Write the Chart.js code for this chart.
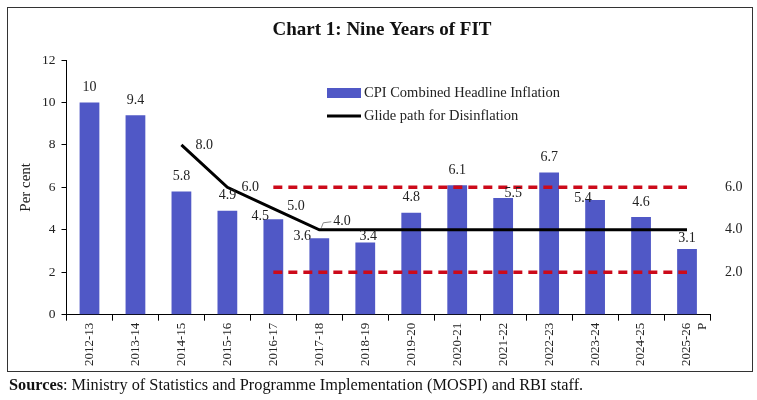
<!DOCTYPE html>
<html>
<head>
<meta charset="utf-8">
<script src="https://cdn.jsdelivr.net/npm/chart.js@4.4.1/dist/chart.umd.min.js"></script>
<style>
  html, body { margin: 0; padding: 0; background: #fff; }
  #wrap { width: 757px; height: 400px; position: relative; }
</style>
</head>
<body>
<div id="wrap"><canvas id="fitChart" width="757" height="400"></canvas></div>
<script>
// Data
const categories = ['2012-13', '2013-14', '2014-15', '2015-16', '2016-17', '2017-18', '2018-19',
    '2019-20', '2020-21', '2021-22', '2022-23', '2023-24', '2024-25', ['2025-26', 'P']];
const cpiInflation = [10, 9.4, 5.8, 4.9, 4.5, 3.6, 3.4, 4.8, 6.1, 5.5, 6.7, 5.4, 4.6, 3.1];
const glidePath = [null, null, 8.0, 6.0, 5.0, 4.0, 4.0, 4.0, 4.0, 4.0, 4.0, 4.0, 4.0, 4.0];
const upperBand = [null, null, null, null, 6, 6, 6, 6, 6, 6, 6, 6, 6, 6];
const lowerBand = [null, null, null, null, 2, 2, 2, 2, 2, 2, 2, 2, 2, 2];
const glideLabelIndex = [2, 3, 4, 5];
const bandLabels = [6.0, 4.0, 2.0];
const yTicks = [0, 2, 4, 6, 8, 10, 12];

const SERIF = '"Liberation Serif", "DejaVu Serif", serif';
const BAR_BLUE = '#5058c6';
const BAND_RED = '#cc0a1a';
const TEXT = '#222';

// a few bar labels were nudged in the original to dodge the lines
const labelNudge = { 4: [-13, 12], 5: [-17, 13], 6: [3, 9], 9: [10, 10], 11: [-12, 13], 13: [0, 4] };

// Title, labels, frame, legend and source line
const decorations = {
    id: 'decorations',
    beforeDraw(chart) {
        const ctx = chart.ctx;
        ctx.save();
        ctx.strokeStyle = '#333';
        ctx.lineWidth = 1;
        ctx.strokeRect(7.5, 7.5, 745, 364);
        ctx.fillStyle = '#111';
        ctx.font = 'bold 19px ' + SERIF;
        ctx.textAlign = 'center';
        ctx.textBaseline = 'middle';
        ctx.fillText('Chart 1: Nine Years of FIT', 382, 30);
        ctx.restore();
    },
    afterDatasetsDraw(chart) {
        const ctx = chart.ctx;
        const area = chart.chartArea;
        const y = chart.scales.y;
        ctx.save();
        ctx.fillStyle = TEXT;
        ctx.font = '14px ' + SERIF;
        ctx.textAlign = 'center';
        ctx.textBaseline = 'middle';

        // bar value labels
        chart.getDatasetMeta(3).data.forEach((bar, i) => {
            const [dx, dy] = labelNudge[i] || [0, 0];
            ctx.fillText(String(cpiInflation[i]), bar.x + dx, bar.y - 15 + dy);
        });

        // glide path labels
        const lineMeta = chart.getDatasetMeta(1).data;
        ctx.textAlign = 'left';
        glideLabelIndex.forEach(i => {
            const p = lineMeta[i];
            let dx = 14, dy = 0;
            if (i === 4) { dy = -2; }
            if (i === 5) { dx = 14; dy = -8; }
            ctx.fillText(glidePath[i].toFixed(1), p.x + dx, p.y + dy);
        });
        // leader for the 4.0 label
        const p5 = lineMeta[5];
        ctx.strokeStyle = '#888';
        ctx.lineWidth = 1;
        ctx.beginPath();
        ctx.moveTo(p5.x + 2, p5.y - 2);
        ctx.lineTo(p5.x + 4, p5.y - 7);
        ctx.lineTo(p5.x + 12, p5.y - 8);
        ctx.stroke();

        // band labels on the right
        bandLabels.forEach(v => {
            ctx.fillText(v.toFixed(1), area.right + 15, y.getPixelForValue(v));
        });

        // legend
        ctx.fillStyle = BAR_BLUE;
        ctx.fillRect(327, 88, 34, 10);
        ctx.strokeStyle = '#000';
        ctx.lineWidth = 3;
        ctx.beginPath();
        ctx.moveTo(327, 116);
        ctx.lineTo(361, 116);
        ctx.stroke();
        ctx.fillStyle = TEXT;
        ctx.font = '14.5px ' + SERIF;
        ctx.fillText('CPI Combined Headline Inflation', 364, 93);
        ctx.fillText('Glide path for Disinflation', 364, 116);

        // sources
        ctx.fillStyle = '#111';
        ctx.font = 'bold 16.3px ' + SERIF;
        ctx.fillText('Sources', 9, 386);
        const w = ctx.measureText('Sources').width;
        ctx.font = '16.3px ' + SERIF;
        ctx.fillText(': Ministry of Statistics and Programme Implementation (MOSPI) and RBI staff.', 9 + w, 386);
        ctx.restore();
    }
};

new Chart(document.getElementById('fitChart'), {
    type: 'bar',
    data: {
        labels: categories,
        datasets: [
            {
                type: 'line',
                label: 'Upper band',
                data: upperBand,
                borderColor: BAND_RED,
                borderWidth: 3.5,
                borderDash: [9, 6],
                pointRadius: 0,
                fill: false,
                order: 0
            },
            {
                type: 'line',
                label: 'Glide path for Disinflation',
                data: glidePath,
                borderColor: '#000',
                borderWidth: 3,
                pointRadius: 0,
                tension: 0,
                fill: false,
                order: 0
            },
            {
                type: 'line',
                label: 'Lower band',
                data: lowerBand,
                borderColor: BAND_RED,
                borderWidth: 3.5,
                borderDash: [9, 6],
                pointRadius: 0,
                fill: false,
                order: 0
            },
            {
                label: 'CPI Combined Headline Inflation',
                data: cpiInflation,
                backgroundColor: BAR_BLUE,
                categoryPercentage: 1,
                barPercentage: 0.43,
                order: 2
            }
        ]
    },
    options: {
        responsive: false,
        animation: false,
        layout: { padding: { left: 10, right: 47, top: 60, bottom: 32 } },
        plugins: {
            legend: { display: false },
            tooltip: { enabled: false },
            title: { display: false }
        },
        scales: {
            x: {
                grid: { display: true, drawOnChartArea: false, drawTicks: true, tickLength: 6, color: '#000', offset: true },
                border: { color: '#000', width: 1 },
                ticks: {
                    color: TEXT,
                    font: { family: SERIF, size: 13 },
                    minRotation: 90,
                    maxRotation: 90,
                    autoSkip: false,
                    padding: 2
                }
            },
            y: {
                min: 0,
                max: 12,
                afterBuildTicks(scale) { scale.ticks = yTicks.map(v => ({ value: v })); },
                grid: { display: true, drawOnChartArea: false, drawTicks: true, tickLength: 5, color: '#000' },
                border: { color: '#000', width: 1 },
                ticks: { color: TEXT, font: { family: SERIF, size: 13.5 }, padding: 6 },
                title: { display: true, text: 'Per cent', color: TEXT, font: { family: SERIF, size: 15 }, padding: { top: 7, bottom: 1 } }
            }
        }
    },
    plugins: [decorations]
});
</script>
</body>
</html>
